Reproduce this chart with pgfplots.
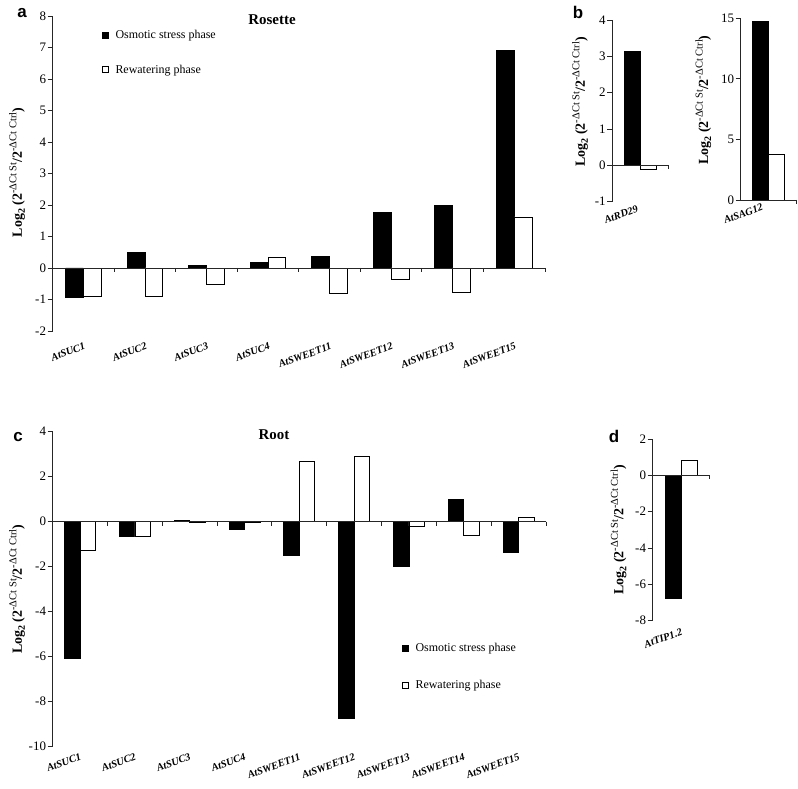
\documentclass[border=0pt]{standalone}
\usepackage{fontspec}
\setmainfont{Liberation Serif}
\newfontfamily\arialfont{Liberation Sans}
\usepackage{pgfplots}
\pgfplotsset{compat=1.18}

\newcommand{\sups}[1]{\raisebox{5.5bp}{\fontsize{10.5}{10.5}\selectfont #1}}
\newcommand{\ylab}{\textbf{Log}\raisebox{-3bp}{\fontsize{10}{10}\selectfont\bfseries 2}\textbf{ (2}\sups{-ΔCt St}\textbf{/2}\sups{-ΔCt Ctrl}\textbf{)}}

\tikzset{zl/.style={line width=0.9bp, black!85}}
\pgfplotsset{
 sqlegend/.style={legend image code/.code={\path[draw=none, fill=none] (0bp,0bp) -- (11bp,0bp); \draw[##1, line width=0.8bp] (0bp,-3bp) rectangle (6bp,3bp);}},
 panel/.style={
  scale only axis, clip=false,
  axis y line*=left, axis x line*=bottom,
  x axis line style={draw=none},
  xtick style={draw=none},
  y axis line style={line width=0.9bp, black!85},
  ytick style={line width=0.9bp, black!85},
  tick align=outside, major tick length=5bp,
  ybar=0pt,
  /pgf/number format/assume math mode=true,
  yticklabel style={font=\fontsize{13}{13}\selectfont, inner sep=1.5bp},
  xticklabel style={font=\fontsize{10.5}{10.5}\selectfont\bfseries\itshape, rotate=20, anchor=north east, inner sep=0pt},
  ylabel={\ylab},
  every axis y label/.append style={font=\fontsize{14}{14}\selectfont, anchor=center},
  every axis plot post/.append style={sqlegend},
  legend style={draw=none, fill=none, inner sep=0pt, font=\fontsize{12}{12}\selectfont, row sep=21bp, legend cell align=left},
 },
 blk/.style={fill=black, draw=black, line width=0.8bp},
 wht/.style={fill=white, draw=black, line width=0.8bp},
}

\begin{document}
\begin{tikzpicture}
\path[use as bounding box] (0,0) rectangle (798bp,789bp);

% ---------------- panel a ----------------
\begin{axis}[panel, at={(52.7bp,458bp)}, anchor=south west,
  width=492.3bp, height=315bp, xmin=-0.5, xmax=7.5, ymin=-2, ymax=8,
  ytick={-2,-1,...,8}, bar width=17.8bp,
  xtick={0,...,7},
  xticklabels={AtSUC1,AtSUC2,AtSUC3,AtSUC4,AtSWEET11,AtSWEET12,AtSWEET13,AtSWEET15},
  xticklabel style={xshift=-2bp, yshift=-6bp},
  ylabel style={at={(axis description cs:-0.0725,0.503)}},
  legend style={at={(axis description cs:0.100,0.962)}, anchor=north west}]
\addplot[blk] coordinates {(0,-0.94) (1,0.49) (2,0.07) (3,0.17) (4,0.37) (5,1.75) (6,1.98) (7,6.9)};
\addplot[wht] coordinates {(0,-0.89) (1,-0.89) (2,-0.53) (3,0.34) (4,-0.81) (5,-0.37) (6,-0.77) (7,1.62)};
\legend{Osmotic stress phase, Rewatering phase}
\draw[zl] (axis cs:-0.5,0) -- (axis cs:7.5,0);
\pgfplotsinvokeforeach{0.5,1.5,2.5,3.5,4.5,5.5,6.5,7.5}{\draw[zl] (axis cs:#1,0) -- ([yshift=-4bp]axis cs:#1,0);}
\end{axis}

% ---------------- panel b1 ----------------
\begin{axis}[panel, at={(612.3bp,587.3bp)}, anchor=south west,
  width=56bp, height=181.7bp, xmin=-0.5, xmax=0.5, ymin=-1, ymax=4,
  ytick={-1,0,...,4}, bar width=15.8bp,
  xtick={0}, xticklabels={AtRD29},
  xticklabel style={xshift=-3bp, yshift=3bp},
  ylabel style={at={(axis description cs:-0.577,0.55)}}]
\addplot[blk] coordinates {(0,3.13)};
\addplot[wht] coordinates {(0,-0.12)};
\draw[zl] (axis cs:-0.5,0) -- (axis cs:0.5,0);
\draw[zl] (axis cs:0.5,0) -- ([yshift=-4bp]axis cs:0.5,0);
\end{axis}

% ---------------- panel b2 ----------------
\begin{axis}[panel, at={(740.7bp,589bp)}, anchor=south west,
  width=55.3bp, height=181.7bp, xmin=-0.5, xmax=0.5, ymin=0, ymax=15,
  ytick={0,5,10,15}, bar width=15.8bp,
  xtick={0}, xticklabels={AtSAG12},
  xticklabel style={xshift=-6bp, yshift=4bp},
  ylabel style={at={(axis description cs:-0.675,0.55)}}]
\addplot[blk] coordinates {(0,14.72)};
\addplot[wht] coordinates {(0,3.8)};
\draw[zl] (axis cs:-0.5,0) -- (axis cs:0.5,0);
\draw[zl] (axis cs:0.5,0) -- ([yshift=-4bp]axis cs:0.5,0);
\end{axis}

% ---------------- panel c ----------------
\begin{axis}[panel, at={(52.7bp,42.3bp)}, anchor=south west,
  width=493.3bp, height=315bp, xmin=-0.5, xmax=8.5, ymin=-10, ymax=4,
  ytick={-10,-8,...,4}, bar width=15.5bp,
  xtick={0,...,8},
  xticklabels={AtSUC1,AtSUC2,AtSUC3,AtSUC4,AtSWEET11,AtSWEET12,AtSWEET13,AtSWEET14,AtSWEET15},
  xticklabel style={xshift=-1bp, yshift=-1bp},
  ylabel style={at={(axis description cs:-0.0725,0.5)}},
  legend style={at={(axis description cs:0.708,0.335)}, anchor=north west, row sep=23bp}]
\addplot[blk] coordinates {(0,-6.09) (1,-0.67) (2,0.06) (3,-0.34) (4,-1.48) (5,-8.74) (6,-2.0) (7,0.99) (8,-1.38)};
\addplot[wht] coordinates {(0,-1.29) (1,-0.67) (2,-0.05) (3,-0.02) (4,2.67) (5,2.89) (6,-0.19) (7,-0.62) (8,0.19)};
\legend{Osmotic stress phase, Rewatering phase}
\draw[zl] (axis cs:-0.5,0) -- (axis cs:8.5,0);
\pgfplotsinvokeforeach{0.5,1.5,2.5,3.5,4.5,5.5,6.5,7.5,8.5}{\draw[zl] (axis cs:#1,0) -- ([yshift=-4bp]axis cs:#1,0);}
\end{axis}

% ---------------- panel d ----------------
\begin{axis}[panel, at={(652.7bp,168.3bp)}, anchor=south west,
  width=56.6bp, height=181.7bp, xmin=-0.5, xmax=0.5, ymin=-8, ymax=2,
  ytick={-8,-6,...,2}, bar width=16bp,
  xtick={0}, xticklabels={AtTIP1.2},
  xticklabel style={xshift=-1bp, yshift=-2bp},
  ylabel style={at={(axis description cs:-0.605,0.5)}}]
\addplot[blk] coordinates {(0,-6.77)};
\addplot[wht] coordinates {(0,0.84)};
\draw[zl] (axis cs:-0.5,0) -- (axis cs:0.5,0);
\draw[zl] (axis cs:0.5,0) -- ([yshift=-4bp]axis cs:0.5,0);
\end{axis}

% titles and panel letters
\node[font=\fontsize{15}{15}\selectfont\bfseries] at (272bp,769bp) {Rosette};
\node[font=\fontsize{15}{15}\selectfont\bfseries] at (274bp,354bp) {Root};
\node[font=\arialfont\fontsize{17}{17}\selectfont\bfseries] at (22bp,776bp) {a};
\node[font=\arialfont\fontsize{17}{17}\selectfont\bfseries] at (578bp,777bp) {b};
\node[font=\arialfont\fontsize{17}{17}\selectfont\bfseries] at (18bp,352.3bp) {c};
\node[font=\arialfont\fontsize{17}{17}\selectfont\bfseries] at (614bp,353bp) {d};
\end{tikzpicture}
\end{document}
